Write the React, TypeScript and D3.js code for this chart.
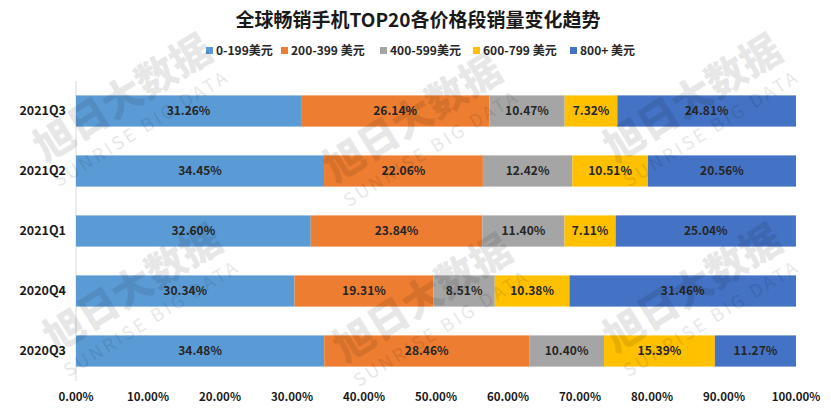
import { useEffect, useRef } from "react"
import * as d3 from "d3"

const quarters = ["2021Q3", "2021Q2", "2021Q1", "2020Q4", "2020Q3"]
const priceBands = ["0-199美元", "200-399 美元", "400-599美元", "600-799 美元", "800+ 美元"]
const bandColors = ["#5B9BD5", "#ED7D31", "#A5A5A5", "#FFC000", "#4472C4"]

// share per price band, rows follow `quarters`
const band0to199 = [31.26, 34.45, 32.6, 30.34, 34.48]
const band200to399 = [26.14, 22.06, 23.84, 19.31, 28.46]
const band400to599 = [10.47, 12.42, 11.4, 8.51, 10.4]
const band600to799 = [7.32, 10.51, 7.11, 10.38, 15.39]
const band800plus = [24.81, 20.56, 25.04, 31.46, 11.27]

const xTicks = [0, 10, 20, 30, 40, 50, 60, 70, 80, 90, 100]

const FONT = "'Noto Sans CJK SC', 'Noto Sans', sans-serif"

export default function App() {
  const svgRef = useRef<SVGSVGElement | null>(null)

  useEffect(() => {
    if (!svgRef.current) return
    const svg = d3.select(svgRef.current)
    svg.selectAll("*").remove()

    const width = 831
    const height = 413
    svg.attr("width", width).attr("height", height).attr("font-family", FONT)

    const seriesValues = [band0to199, band200to399, band400to599, band600to799, band800plus]
    const rows = quarters.map((q, i) => {
      const row: Record<string, number | string> = { quarter: q }
      priceBands.forEach((b, j) => (row[b] = seriesValues[j][i]))
      return row
    })
    const stacked = d3.stack<Record<string, number | string>>().keys(priceBands)(rows)

    const x = d3.scaleLinear().domain([0, 100]).range([76, 796])
    const y = d3
      .scaleBand<string>()
      .domain(quarters)
      .range([81, 381])
      .paddingInner(0.48)
      .paddingOuter(0.24)

    svg
      .append("rect")
      .attr("width", width)
      .attr("height", height)
      .attr("fill", "#ffffff")

    // title
    svg
      .append("text")
      .attr("x", 418)
      .attr("y", 27)
      .attr("text-anchor", "middle")
      .attr("font-size", 19)
      .attr("font-weight", 700)
      .attr("fill", "#1a1a1a")
      .text("全球畅销手机TOP20各价格段销量变化趋势")

    // legend
    const legendX = [206, 281, 380, 473, 570]
    const legend = svg
      .append("g")
      .selectAll("g")
      .data(priceBands)
      .join("g")
      .attr("transform", (_, i) => `translate(${legendX[i]}, 51)`)
    legend
      .append("rect")
      .attr("x", 0)
      .attr("y", -4)
      .attr("width", 7)
      .attr("height", 7)
      .attr("fill", (_, i) => bandColors[i])
    legend
      .append("text")
      .attr("x", 10)
      .attr("y", 4)
      .attr("font-size", 12)
      .attr("font-weight", 700)
      .attr("fill", "#262626")
      .text((d) => d)

    // vertical axis line
    svg
      .append("line")
      .attr("x1", x(0))
      .attr("x2", x(0))
      .attr("y1", 81)
      .attr("y2", 381)
      .attr("stroke", "#d9d9d9")

    const layer = svg
      .append("g")
      .selectAll("g")
      .data(stacked)
      .join("g")
      .attr("fill", (_, i) => bandColors[i])

    layer
      .selectAll("rect")
      .data((d) => d)
      .join("rect")
      .attr("x", (d) => x(d[0]))
      .attr("y", (d) => y(d.data.quarter as string) ?? 0)
      .attr("width", (d) => x(d[1]) - x(d[0]))
      .attr("height", y.bandwidth())

    layer
      .selectAll("text")
      .data((d) => d)
      .join("text")
      .attr("x", (d) => (x(d[0]) + x(d[1])) / 2)
      .attr("y", (d) => (y(d.data.quarter as string) ?? 0) + y.bandwidth() / 2 + 4)
      .attr("text-anchor", "middle")
      .attr("font-size", 12)
      .attr("font-weight", 700)
      .attr("fill", "#262626")
      .text((d) => `${(d[1] - d[0]).toFixed(2)}%`)

    // category labels
    svg
      .append("g")
      .selectAll("text")
      .data(quarters)
      .join("text")
      .attr("x", 66)
      .attr("y", (d) => (y(d) ?? 0) + y.bandwidth() / 2 + 4)
      .attr("text-anchor", "end")
      .attr("font-size", 12.5)
      .attr("font-weight", 700)
      .attr("fill", "#1a1a1a")
      .text((d) => d)

    // x axis labels
    svg
      .append("g")
      .selectAll("text")
      .data(xTicks)
      .join("text")
      .attr("x", (d) => x(d))
      .attr("y", 401)
      .attr("text-anchor", "middle")
      .attr("font-size", 11.5)
      .attr("font-weight", 700)
      .attr("fill", "#1a1a1a")
      .text((d) => `${d.toFixed(2)}%`)

    // watermark, kept inside the frame
    const marks = [
      [130, 110],
      [420, 130],
      [700, 110],
      [140, 300],
      [430, 310],
      [700, 300],
    ]
    const wm = svg
      .append("g")
      .attr("pointer-events", "none")
      .selectAll("g")
      .data(marks)
      .join("g")
      .attr("transform", (d) => `translate(${d[0]}, ${d[1]}) rotate(-32)`)
    wm.append("text")
      .attr("text-anchor", "middle")
      .attr("font-size", 40)
      .attr("font-weight", 900)
      .attr("fill", "#000")
      .attr("opacity", 0.09)
      .text("旭日大数据")
    wm.append("text")
      .attr("y", 28)
      .attr("text-anchor", "middle")
      .attr("font-size", 18)
      .attr("letter-spacing", 3)
      .attr("fill", "#000")
      .attr("opacity", 0.09)
      .text("SUNRISE BIG DATA")
  }, [])

  return <svg ref={svgRef} style={{ display: "block", margin: -8 }} />
}
